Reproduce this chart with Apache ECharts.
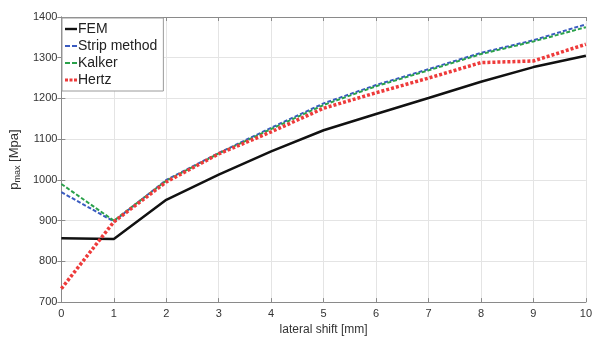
<!DOCTYPE html>
<html>
<head>
<meta charset="utf-8">
<script src="https://cdn.jsdelivr.net/npm/echarts@6/dist/echarts.min.js"></script>
<style>
  html, body { margin: 0; padding: 0; background: #fff; }
  #chart { width: 595px; height: 341px; }
</style>
</head>
<body>
<div id="chart"></div>
<script>
// Lateral shift of the wheel (mm)
const shifts = [0, 1, 2, 3, 4, 5, 6, 7, 8, 9, 10];
// Maximum contact pressure (MPa) per method
const fem    = [857, 855, 951, 1013, 1070, 1122, 1162, 1201, 1241, 1277, 1305];
const strip  = [970, 898, 1000, 1066, 1128, 1188, 1233, 1272, 1312, 1343, 1382];
const kalker = [990, 900, 998, 1065, 1125, 1184, 1230, 1269, 1309, 1340, 1375];
const hertz  = [733, 897, 995, 1064, 1118, 1176, 1214, 1250, 1288, 1292, 1333];
const yTicks = [700, 800, 900, 1000, 1100, 1200, 1300, 1400];

const pairs = arr => shifts.map((x, i) => [x, arr[i]]);
const font = 'Liberation Sans, Arial, sans-serif';
const axisGray = '#8a8a8a';

// Legend glyphs: a solid bar, two dashes, and a row of dots
const iconSolid = 'path://M0,0H12V2.4H0Z';
const iconDash = 'path://M0,0H5V2H0Z M7,0H12V2H7Z';
const iconDots = 'path://M0,0H3V3H0Z M4.5,0H7.5V3H4.5Z M9,0H12V3H9Z';

const chart = echarts.init(document.getElementById('chart'), null, { renderer: 'canvas' });

const baseX = {
  type: 'value', min: 0, max: 10, interval: 1,
  axisLine: { show: true, lineStyle: { color: axisGray, width: 1 } },
  axisTick: { show: true, inside: true, length: 4, lineStyle: { color: axisGray } },
  splitLine: { show: false }
};
const baseY = {
  type: 'value', min: yTicks[0], max: yTicks[yTicks.length - 1], interval: 100,
  axisLine: { show: true, lineStyle: { color: axisGray, width: 1 } },
  axisTick: { show: true, inside: true, length: 4, lineStyle: { color: axisGray } },
  splitLine: { show: false }
};

chart.setOption({
  animation: false,
  backgroundColor: '#fff',
  grid: { left: 61, right: 7, top: 17, bottom: 38, containLabel: false },
  legend: {
    orient: 'vertical',
    left: 62, top: 18,
    padding: [4, 6, 4, 3],
    itemGap: 3,
    itemWidth: 12, itemHeight: 14,
    backgroundColor: '#fff',
    borderColor: '#9a9a9a', borderWidth: 1,
    textStyle: { fontFamily: font, fontSize: 14, color: '#222', padding: [0, 0, 0, -4] },
    data: [
      { name: 'FEM', icon: iconSolid, itemStyle: { color: '#111' } },
      { name: 'Strip method', icon: iconDash, itemStyle: { color: '#3a5bc0' } },
      { name: 'Kalker', icon: iconDash, itemStyle: { color: '#2aa14a' } },
      { name: 'Hertz', icon: iconDots, itemStyle: { color: '#ee3a3a' } }
    ]
  },
  xAxis: [
    Object.assign({}, baseX, {
      position: 'bottom',
      name: 'lateral shift [mm]', nameLocation: 'middle', nameGap: 20,
      nameTextStyle: { fontFamily: font, fontSize: 12, color: '#333' },
      axisLabel: { fontFamily: font, fontSize: 11, color: '#333', margin: 6 },
      splitLine: { show: true, lineStyle: { color: '#e4e4e4', width: 1 } }
    }),
    Object.assign({}, baseX, { position: 'top', axisLabel: { show: false } })
  ],
  yAxis: [
    Object.assign({}, baseY, {
      position: 'left',
      name: 'p{sub|max} [Mpa]', nameLocation: 'middle', nameGap: 38,
      nameTextStyle: {
        fontFamily: font, fontSize: 13, color: '#333',
        rich: { sub: { fontFamily: font, fontSize: 9, color: '#333', verticalAlign: 'bottom', padding: [6, 0, 0, 0] } }
      },
      axisLabel: { fontFamily: font, fontSize: 11, color: '#333', margin: 4, formatter: v => String(v) },
      splitLine: { show: true, lineStyle: { color: '#e4e4e4', width: 1 } }
    }),
    Object.assign({}, baseY, { position: 'right', axisLabel: { show: false } })
  ],
  series: [
    {
      name: 'FEM', type: 'line', data: pairs(fem), symbol: 'none', z: 3,
      lineStyle: { color: '#111', width: 2.5 }, itemStyle: { color: '#111' }
    },
    {
      name: 'Strip method', type: 'line', data: pairs(strip), symbol: 'none', z: 4,
      lineStyle: { color: '#3a5bc0', width: 2, type: [4, 2] }, itemStyle: { color: '#3a5bc0' }
    },
    {
      name: 'Kalker', type: 'line', data: pairs(kalker), symbol: 'none', z: 5,
      lineStyle: { color: '#2aa14a', width: 2, type: [4, 2] }, itemStyle: { color: '#2aa14a' }
    },
    {
      name: 'Hertz', type: 'line', data: pairs(hertz), symbol: 'none', z: 6,
      lineStyle: { color: '#ee3a3a', width: 3.5, type: [3, 2] }, itemStyle: { color: '#ee3a3a' }
    }
  ]
});
</script>
</body>
</html>
